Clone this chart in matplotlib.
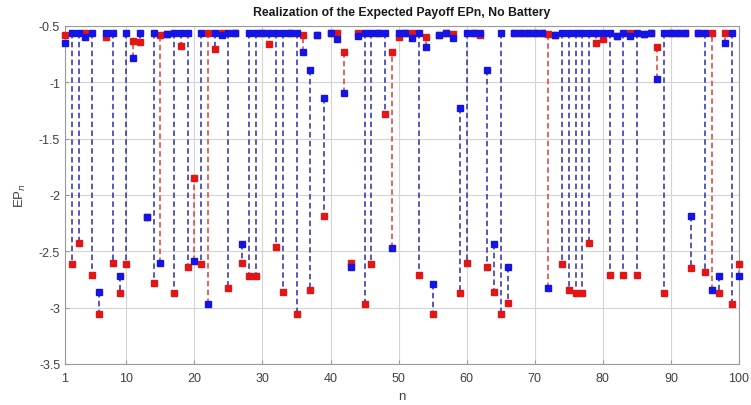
import numpy as np
import matplotlib
matplotlib.use("Agg")
import matplotlib.pyplot as plt

plt.rcParams['font.family'] = ['Liberation Sans', 'DejaVu Sans']

# expected payoff per stage, two realizations
n = np.arange(1, 101)
ep_blue = [-0.65, -0.56, -0.56, -0.60, -0.56, -2.86, -0.56, -0.56, -2.72, -0.56,
           -0.79, -0.56, -2.20, -0.56, -2.60, -0.575, -0.56, -0.56, -0.56, -2.59,
           -0.56, -2.97, -0.56, -0.585, -0.56, -0.56, -2.44, -0.56, -0.56, -0.56,
           -0.56, -0.56, -0.56, -0.56, -0.56, -0.73, -0.89, -0.58, -1.14, -0.56,
           -0.615, -1.10, -2.64, -0.59, -0.56, -0.56, -0.56, -0.56, -2.47, -0.56,
           -0.56, -0.61, -0.56, -0.69, -2.79, -0.58, -0.56, -0.61, -1.23, -0.56,
           -0.56, -0.56, -0.89, -2.44, -0.56, -2.64, -0.56, -0.56, -0.56, -0.56,
           -0.56, -2.83, -0.58, -0.56, -0.56, -0.56, -0.56, -0.56, -0.56, -0.56,
           -0.56, -0.59, -0.56, -0.59, -0.56, -0.575, -0.56, -0.97, -0.56, -0.56,
           -0.56, -0.56, -2.19, -0.56, -0.56, -2.84, -2.72, -0.65, -0.56, -2.72]
ep_red = [-0.58, -2.61, -2.43, -0.565, -2.71, -3.06, -0.60, -2.60, -2.87, -2.61,
          -0.635, -0.645, -2.20, -2.78, -0.58, -0.575, -2.87, -0.68, -2.64, -1.85,
          -2.61, -0.56, -0.71, -0.56, -2.83, -0.56, -2.60, -2.72, -2.72, -0.56,
          -0.66, -2.46, -2.86, -0.56, -3.06, -0.58, -2.84, -0.58, -2.19, -0.56,
          -0.565, -0.73, -2.60, -0.565, -2.97, -2.61, -0.56, -1.28, -0.73, -0.60,
          -0.56, -0.56, -2.71, -0.60, -3.06, -0.58, -0.56, -0.57, -2.87, -2.60,
          -0.56, -0.58, -2.64, -2.86, -3.06, -2.96, -0.56, -0.56, -0.56, -0.56,
          -0.56, -0.57, -0.58, -2.61, -2.84, -2.87, -2.87, -2.43, -0.65, -0.62,
          -2.71, -0.59, -2.71, -0.56, -2.71, -0.575, -0.56, -0.69, -2.87, -0.56,
          -0.56, -0.56, -2.65, -0.56, -2.68, -0.56, -2.87, -0.56, -2.97, -2.61]

fig = plt.figure(figsize=(7.51, 4.06), dpi=100)
ax = fig.add_axes([0.0866, 0.101, 0.8975, 0.833])

# dashed connector between the two values, coloured by the upper one
for k, b, r in zip(n, ep_blue, ep_red):
    if b == r:
        continue
    col = '#e23b3b' if r > b else '#2a2ab0'
    ax.plot([k, k], [b, r], color=col, lw=1.1, linestyle=(0, (3.6, 2.2)), zorder=2)

ax.plot(n, ep_red, 's', color='#e41515', ms=4.4, mec='#e41515', ls='none',
        zorder=3, clip_on=False)
ax.plot(n, ep_blue, 's', color='#1414e6', ms=4.4, mec='#1414e6', ls='none',
        zorder=4, clip_on=False)

ax.set_xlim(1, 100)
ax.set_ylim(-3.5, -0.5)
ax.set_xticks([1, 10, 20, 30, 40, 50, 60, 70, 80, 90, 100])
ax.set_yticks(np.arange(-3.5, -0.49, 0.5))
ax.set_yticklabels(['-3.5', '-3', '-2.5', '-2', '-1.5', '-1', '-0.5'])
ax.grid(True, color='#d4d4d4', lw=0.8)
ax.set_axisbelow(True)
for s in ax.spines.values():
    s.set_color('#9a9a9a')
    s.set_linewidth(0.8)
ax.tick_params(direction='in', length=3, colors='#9a9a9a', labelcolor='#404040',
               labelsize=9)
ax.tick_params(axis='x', pad=6)

ax.set_title('Realization of the Expected Payoff EPn, No Battery',
             fontsize=8.8, fontweight='bold', color='#1a1a1a', pad=8)
ax.set_xlabel('n', fontsize=9.5, color='#404040', labelpad=4)
ax.set_ylabel('EP$_{n}$', fontsize=9.5, color='#404040', labelpad=8)

fig.savefig('out.png', dpi=100)
